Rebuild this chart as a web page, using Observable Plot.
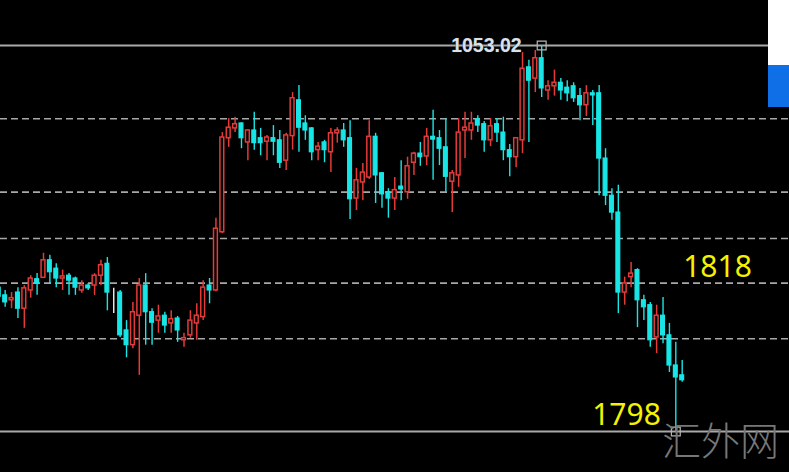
<!DOCTYPE html>
<html>
<head>
<meta charset="utf-8">
<script src="https://cdn.jsdelivr.net/npm/d3@7"></script>
<script src="https://cdn.jsdelivr.net/npm/@observablehq/plot@0.6"></script>
<style>
  html, body { margin: 0; padding: 0; background: #000; }
  #wrap { position: relative; width: 789px; height: 472px; overflow: hidden; background: #000; }
  #wrap svg { display: block; }
  .box-white { position: absolute; left: 768px; top: 0; width: 21px; height: 65px; background: #fff; }
  .box-blue { position: absolute; left: 768px; top: 65px; width: 21px; height: 42px; background: #0f6fe6; }
  .wm { position: absolute; left: 662px; top: 419px; font-family: "Noto Sans CJK SC", sans-serif; font-weight: 300;
        font-size: 39px; line-height: 1; color: #777; white-space: nowrap; }
</style>
</head>
<body>
<div id="wrap"></div>
<script>
// ---- data ----
const opens = [
  1818.5,1817.4,1816.7,1817.8,1815.5,1818.1,1819.7,1819.9,1822.4,1821.2,
  1819.8,1820.2,1819.8,1818.1,1818.8,1818.8,1820.2,1821.9,1818.1,1817.8,
  1812.4,1810.3,1814.5,1818.8,1815.0,1813.8,1814.5,1813.4,1814.1,1811.0,
  1811.7,1813.4,1814.3,1818.8,1818.1,1826.4,1839.8,1841.2,1841.9,1839.2,
  1840.9,1839.8,1839.3,1839.8,1839.5,1836.6,1840.1,1845.2,1841.9,1841.2,
  1838.1,1839.2,1837.8,1840.5,1840.9,1839.8,1831.2,1833.5,1834.2,1840.0,
  1834.8,1832.1,1831.2,1832.9,1832.1,1836.3,1837.6,1837.2,1840.0,1839.8,
  1838.5,1833.6,1834.5,1840.9,1840.9,1842.5,1841.8,1839.5,1841.8,1840.6,
  1838.1,1837.1,1839.5,1849.9,1848.3,1851.2,1846.6,1847.2,1847.7,1847.0,
  1847.2,1845.8,1844.5,1846.2,1846.2,1836.9,1831.6,1829.2,1817.8,1820.0,
  1821.0,1816.7,1816.0,1811.4,1814.5,1811.7,1807.4,1806.0
];
const highs = [
  1819.1,1818.1,1817.8,1818.5,1818.8,1820.2,1820.5,1823.4,1823.1,1821.9,
  1821.0,1820.5,1820.0,1819.5,1819.1,1820.5,1822.4,1822.8,1818.4,1818.1,
  1813.8,1816.4,1819.8,1820.5,1815.5,1816.0,1815.0,1815.2,1814.4,1812.0,
  1815.2,1816.2,1819.5,1819.8,1828.4,1840.6,1842.6,1842.8,1842.0,1841.0,
  1843.5,1841.2,1840.2,1841.6,1840.9,1840.5,1846.3,1847.3,1843.0,1841.3,
  1839.2,1839.5,1841.2,1841.3,1841.9,1842.3,1835.5,1836.2,1842.3,1840.5,
  1834.9,1832.6,1834.2,1836.6,1837.1,1837.8,1839.2,1841.2,1843.8,1840.9,
  1842.6,1835.2,1842.6,1843.5,1843.5,1843.0,1842.2,1842.6,1842.6,1842.8,
  1838.9,1839.9,1852.0,1850.9,1852.3,1853.02,1848.0,1849.5,1848.3,1848.0,
  1847.7,1846.9,1847.3,1846.6,1847.3,1838.3,1832.6,1833.1,1820.0,1822.1,
  1821.2,1817.4,1816.4,1816.0,1817.1,1813.4,1810.7,1808.1
];
const lows = [
  1816.7,1815.7,1815.5,1814.1,1812.7,1817.0,1817.4,1819.8,1819.1,1818.5,
  1818.1,1817.4,1817.4,1817.7,1818.1,1817.4,1818.8,1815.2,1814.8,1811.4,
  1808.5,1809.8,1806.0,1810.3,1810.3,1812.0,1812.0,1812.0,1810.7,1810.0,
  1811.3,1811.0,1813.8,1816.2,1817.9,1826.2,1838.5,1840.6,1838.3,1836.6,
  1838.1,1837.3,1836.6,1837.3,1835.5,1835.2,1838.1,1837.8,1839.5,1836.6,
  1836.6,1836.3,1834.9,1839.1,1838.5,1828.2,1829.5,1830.9,1833.9,1830.5,
  1829.8,1828.4,1829.5,1830.9,1831.1,1834.5,1835.8,1835.9,1833.8,1835.9,
  1832.1,1829.2,1832.8,1836.9,1839.5,1840.6,1837.8,1838.6,1839.2,1836.6,
  1834.3,1835.6,1837.6,1839.2,1846.3,1845.6,1845.2,1845.8,1845.2,1845.0,
  1844.9,1842.3,1842.9,1841.6,1831.6,1830.2,1828.1,1814.8,1816.0,1818.5,
  1812.8,1813.8,1810.0,1809.1,1810.5,1806.4,1798.0,1805.0
];
const closes = [
  1817.2,1816.4,1817.0,1815.5,1818.4,1819.8,1819.1,1822.4,1820.7,1819.8,
  1820.1,1819.5,1818.5,1818.8,1818.4,1820.2,1821.7,1817.8,1818.1,1811.7,
  1810.3,1815.0,1818.8,1815.0,1813.5,1814.4,1813.1,1814.0,1812.4,1811.3,
  1813.8,1814.5,1818.5,1818.1,1826.9,1839.9,1841.3,1841.8,1839.8,1840.9,
  1839.1,1839.1,1839.9,1839.3,1836.3,1840.2,1845.5,1841.3,1840.9,1837.8,
  1838.6,1838.1,1840.5,1840.9,1839.5,1831.1,1833.8,1834.9,1840.0,1834.5,
  1831.8,1831.2,1832.4,1832.5,1835.8,1837.6,1837.1,1840.0,1839.6,1838.3,
  1834.3,1834.8,1840.6,1841.3,1841.9,1841.6,1839.5,1841.5,1840.6,1838.1,
  1837.1,1839.8,1849.7,1848.0,1851.2,1846.9,1847.2,1847.7,1846.6,1846.2,
  1845.5,1844.5,1846.2,1845.9,1836.9,1831.6,1829.2,1817.8,1819.1,1820.5,
  1816.7,1815.7,1811.0,1814.5,1811.7,1807.4,1805.7,1805.3
];
const dashedLevels = [1842.57, 1832.11, 1825.51, 1819.14, 1811.21];
const solidLevels = [1853.02, 1798];
const highLabel = "1053.02";
const levelLabels = ["1818", "1798"];
const watermark = "汇外网";

// ---- build ----
const RED = "#e23b38";
const CYAN = "#18e6e6";
const candles = opens.map((o, i) => ({i, open: o, high: highs[i], low: lows[i], close: closes[i]}));
const up = d => d.close > d.open;
const down = d => d.close < d.open;
const flat = d => d.close === d.open;
const hiIdx = d3.maxIndex(highs);
const loIdx = d3.minIndex(lows);
const lastIdx = candles.length - 1;
const hw = 0.3;

const chart = Plot.plot({
  width: 789,
  height: 472,
  margin: 0,
  style: {background: "#000", overflow: "visible"},
  x: {domain: [0.27, 123.8], axis: null},
  y: {domain: [1792.15, 1859.43], axis: null},
  marks: [
    Plot.ruleY(dashedLevels, {stroke: "#a8a8a8", strokeWidth: 1.6, strokeDasharray: "7,4"}),
    Plot.ruleY(solidLevels, {stroke: "#a9a9a9", strokeWidth: 2}),
    Plot.ruleX(candles, {filter: up, x: "i", y1: "low", y2: "high", stroke: RED, strokeWidth: 1.5}),
    Plot.ruleX(candles, {filter: down, x: "i", y1: "low", y2: "high", stroke: CYAN, strokeWidth: 1.4}),
    Plot.ruleX(candles, {filter: flat, x: "i", y1: "low", y2: "high", stroke: "#f2f2f2", strokeWidth: 1.4}),
    Plot.rect(candles, {filter: up, x1: d => d.i - hw, x2: d => d.i + hw, y1: "open", y2: "close", fill: "#000", stroke: RED, strokeWidth: 1.5}),
    Plot.rect(candles, {filter: down, x1: d => d.i - hw, x2: d => d.i + hw, y1: "open", y2: "close", fill: CYAN, stroke: CYAN, strokeWidth: 1.2}),
    Plot.rect(candles, {filter: flat, x1: d => d.i - hw, x2: d => d.i + hw, y1: "open", y2: "close", fill: "#f2f2f2", stroke: "#f2f2f2", strokeWidth: 1.2}),
    Plot.text([highLabel], {x: [hiIdx], y: [highs[hiIdx]], text: d => d, textAnchor: "end", lineAnchor: "middle", dx: -20,
      fontSize: 19.5, fontWeight: "bold", fontFamily: "Liberation Sans, Arial, sans-serif", fill: "#dbe1ea",
      stroke: "#1d2a3a", strokeWidth: 0.6}),
    Plot.dot([0], {x: [hiIdx], y: [highs[hiIdx]], symbol: "square", r: 5, stroke: "#b5b5b5", fill: "none", strokeWidth: 1.2}),
    Plot.dot([0], {x: [loIdx], y: [lows[loIdx]], symbol: "square", r: 5, stroke: "#b5b5b5", fill: "none", strokeWidth: 1.2}),
    Plot.text([levelLabels[0]], {x: [lastIdx], y: [+levelLabels[0]], text: d => d, textAnchor: "start", lineAnchor: "middle",
      dx: 1, dy: -24, fontSize: 30, fontFamily: "Noto Sans, sans-serif", fill: "#f4f200"}),
    Plot.text([levelLabels[1]], {x: [loIdx], y: [+levelLabels[1]], text: d => d, textAnchor: "end", lineAnchor: "middle",
      dx: -15, dy: -16, fontSize: 30, fontFamily: "Noto Sans, sans-serif", fill: "#f4f200"})
  ]
});

const wrap = document.getElementById("wrap");
wrap.appendChild(chart);
const w = document.createElement("div"); w.className = "box-white"; wrap.appendChild(w);
const b = document.createElement("div"); b.className = "box-blue"; wrap.appendChild(b);
const wm = document.createElement("div"); wm.className = "wm"; wm.textContent = watermark; wrap.appendChild(wm);
</script>
</body>
</html>
